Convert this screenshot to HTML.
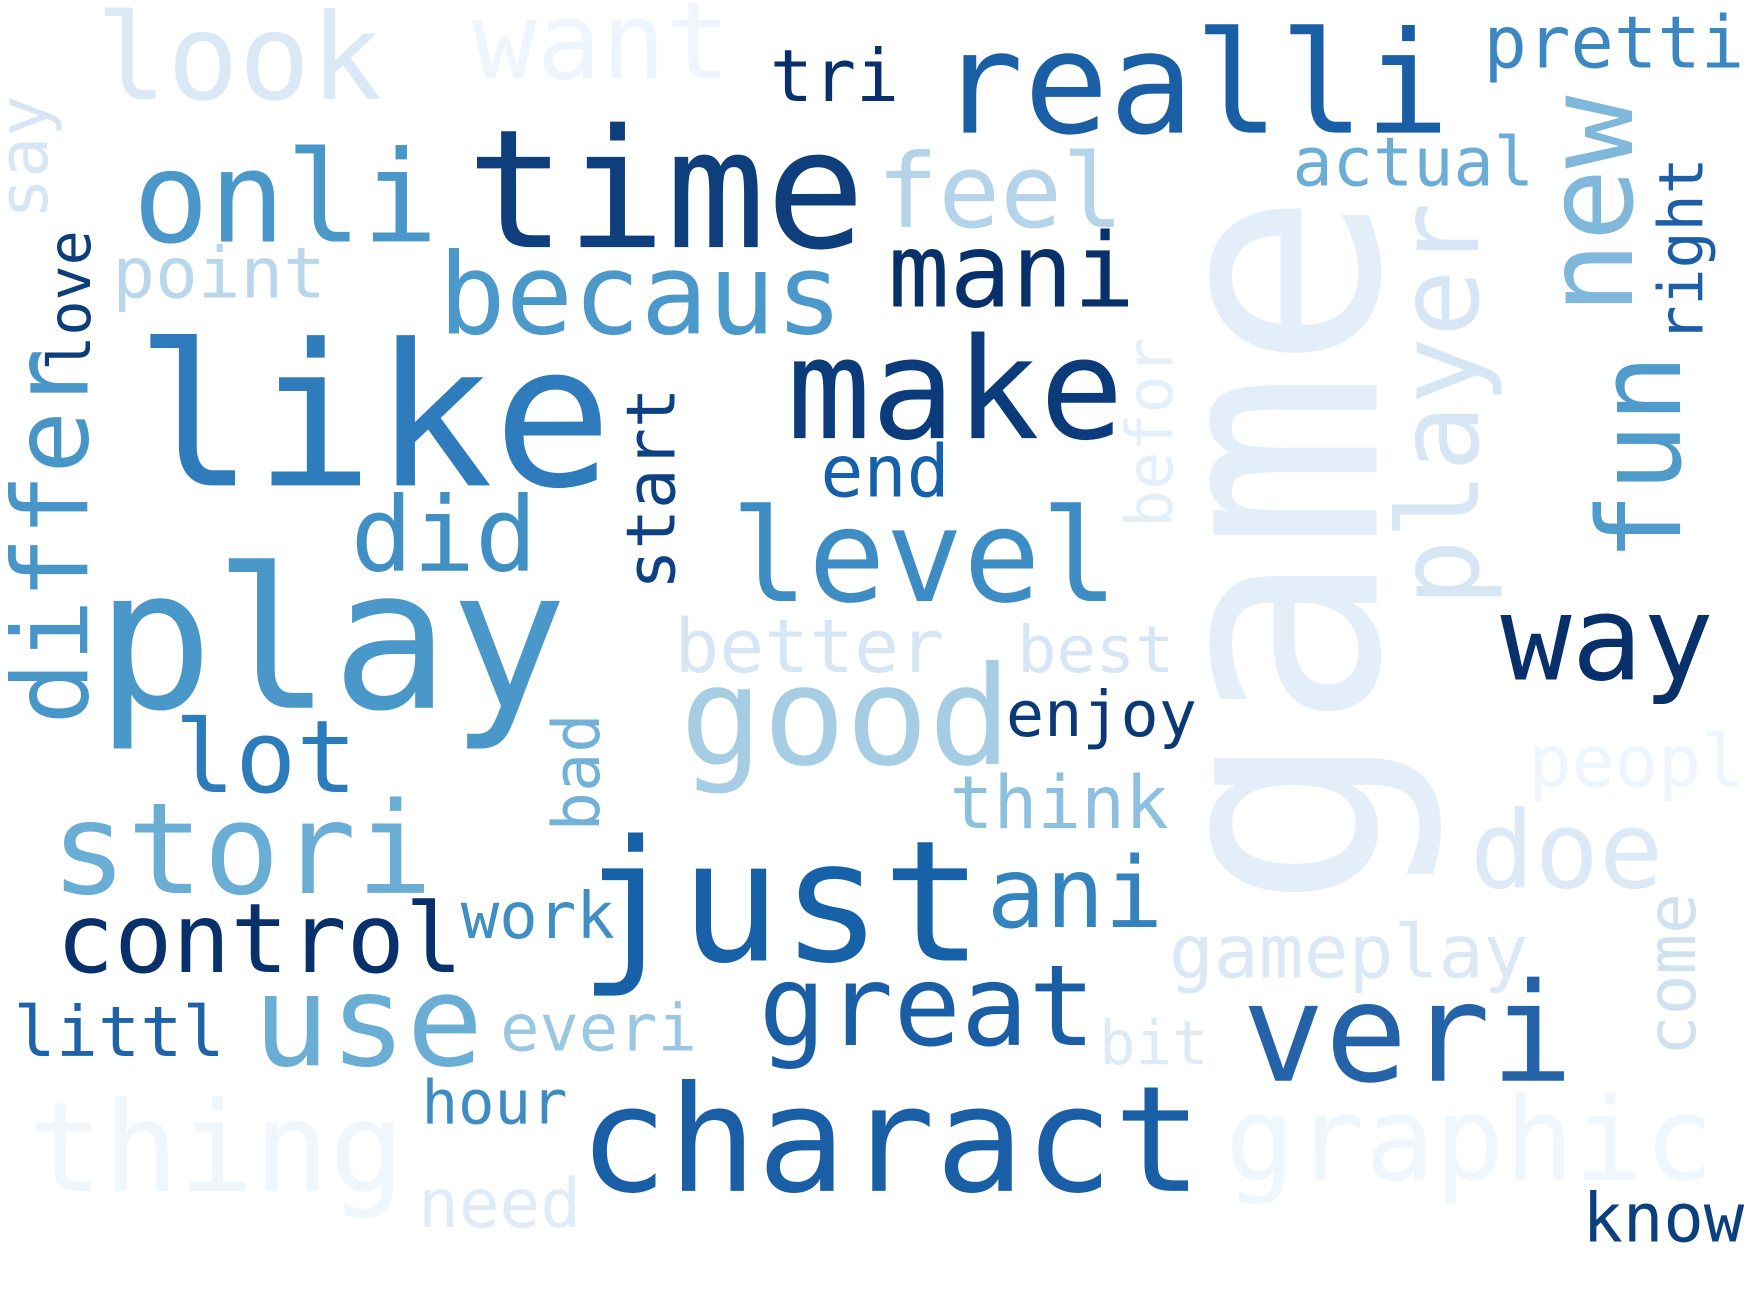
<!DOCTYPE html>
<html><head><meta charset="utf-8"><style>
html,body{margin:0;padding:0;background:#fff;}
svg{display:block;}
text{font-family:"DejaVu Sans Mono","Liberation Mono",monospace;}
</style></head>
<body>
<svg id="cloud" width="1760" height="1292" viewBox="0 0 1566 1150" preserveAspectRatio="none" xmlns="http://www.w3.org/2000/svg">
<rect width="1566" height="1150" fill="#ffffff"/>
</svg>
<script>
const words=["look","want","tri","realli","pretti","onli","time","feel","actual","point","becaus","mani","like","make","end","did","level","play","way","better","best","good","enjoy","lot","peopl","think","stori","doe","just","ani","work","control","gameplay","great","veri","littl","use","everi","bit","hour","thing","charact","graphic","need","know",
"game","say","love","differ","start","befor","player","new","fun","right","bad","come"];
const sizes=[106,95,64,126,64,113,147,91,60,63,100,91,176,125,64,92,115,174,105,66,58,122,56,90,64,65,113,95,150,87,57,86,66,100,122,62,113,58,54,54,111,131,103,60,60,
266,61,52,93,60,57,100,108,102,55,58,60];
const colors=["#dbe9f6","#eff5fc","#08306b","#1a5fa6","#3a87c2","#4a98c9","#0e3e7b","#b5d4e9","#6aaed6","#bad6eb","#4b98ca","#08306b","#2e7cbc","#0b3b7a","#1561a9","#4090c5","#3d8dc4","#4a98c9","#08306b","#d6e6f4","#d6e6f4","#a6cde3","#0a3a75","#2c7bba","#eef5fc","#8cc0de","#6aaed6","#dce9f6","#1661a8","#3383be","#3f8fc5","#08306b","#dbe9f6","#1a5fa6","#2563a8","#1e63a8","#6aaed6","#9ac8e0","#deebf7","#3d8dc4","#eff6fc","#1a5fa6","#eff6fc","#dfebf7","#0c3f7e",
"#e3eef8","#d6e6f4","#0d3d7a","#4896c8","#0e4184","#e4eff9","#d6e6f4","#7fb8da","#4f9bcb","#1d5fa6","#72b2d8","#d0e2f2"];
const xs=[85,420,685,835,1320,118,415,780,1150,100,390,790,120,700,730,312,650,85,1335,600,905,605,895,155,1360,845,45,1308,515,878,410,50,1040,675,1105,12,225,445,978,375,25,515,1090,372,1408,
1225,42,80,78,600,1043,1315,1452,1495,1515,533,1508];
const ys=[88,70,90,118,60,215,220,202,165,265,297,273,432,390,442,508,535,630,605,598,598,680,655,705,700,737,795,790,855,825,835,865,870,930,962,940,948,935,947,1000,1060,1060,1050,1092,1105,
810,195,330,645,525,470,540,280,500,305,740,940];
const spans=[255,230,115,455,232,272,355,220,215,190,360,220,425,300,115,166,345,420,190,240,140,295,170,163,192,195,340,172,360,157,137,362,320,300,295,188,205,175,97,130,335,555,435,145,144,
640,110,125,335,180,170,360,195,185,165,105,145];
const vertical=[0,0,0,0,0,0,0,0,0,0,0,0,0,0,0,0,0,0,0,0,0,0,0,0,0,0,0,0,0,0,0,0,0,0,0,0,0,0,0,0,0,0,0,0,0,
1,1,1,1,1,1,1,1,1,1,1,1];
const svg=document.getElementById('cloud');
const NS='http://www.w3.org/2000/svg';
words.forEach((w,i)=>{
  const t=document.createElementNS(NS,'text');
  
  
  t.setAttribute('font-size',sizes[i]);
  t.setAttribute('fill',colors[i]);
  t.setAttribute('textLength',spans[i]);
  t.setAttribute('lengthAdjust','spacingAndGlyphs');
  if(vertical[i]){
    t.setAttribute('x',0);t.setAttribute('y',0);
    t.setAttribute('transform','translate('+xs[i]+','+ys[i]+') rotate(-90)');
  }else{
    t.setAttribute('x',xs[i]);t.setAttribute('y',ys[i]);
  }
  t.textContent=w;
  svg.appendChild(t);
});
</script>
</body></html>
